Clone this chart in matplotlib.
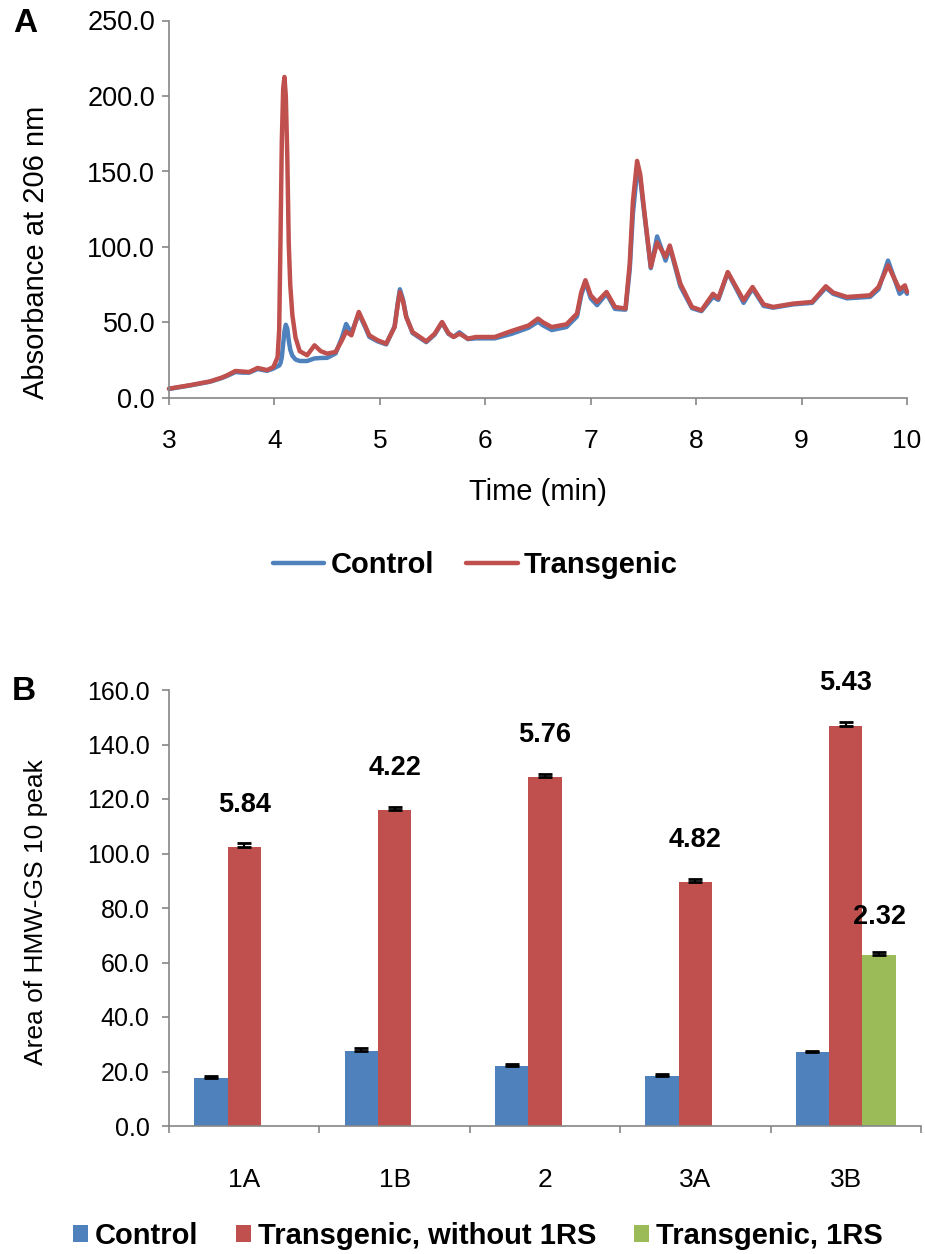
import matplotlib
matplotlib.use("Agg")
import matplotlib.pyplot as plt
import numpy as np
from matplotlib.ticker import FormatStrFormatter

plt.rcParams['font.family'] = ['Liberation Sans', 'DejaVu Sans']

# ---------------- Data: panel A (chromatogram) ----------------
time_min = [3.00, 3.20, 3.39, 3.50, 3.55, 3.63, 3.70, 3.76, 3.84, 3.93, 3.99,
            4.03, 4.045, 4.057, 4.070, 4.083, 4.095, 4.108, 4.122, 4.136, 4.150,
            4.170, 4.200, 4.240, 4.31, 4.38, 4.44, 4.50, 4.58, 4.64, 4.68, 4.73,
            4.80, 4.86, 4.90, 4.98, 5.06, 5.14, 5.17, 5.19, 5.22, 5.25, 5.31,
            5.44, 5.52, 5.59, 5.65, 5.70, 5.755, 5.835, 5.91, 6.09, 6.25, 6.41,
            6.50, 6.55, 6.63, 6.77, 6.87, 6.91, 6.95, 7.00, 7.06, 7.15, 7.23,
            7.33, 7.37, 7.40, 7.44, 7.47, 7.50, 7.57, 7.63, 7.71, 7.75, 7.85,
            7.96, 8.05, 8.16, 8.21, 8.30, 8.45, 8.535, 8.64, 8.73, 8.92, 9.10,
            9.23, 9.30, 9.43, 9.65, 9.73, 9.82, 9.93, 9.98, 10.0]

transgenic_abs = [6.2, 8.5, 11.0, 13.5, 15.0, 17.9, 17.5, 17.2, 19.9, 18.5, 20.5,
                  27.0, 45.0, 102.0, 170.0, 205.0, 212.6, 200.0, 160.0, 102.0, 75.0,
                  55.0, 40.0, 31.0, 28.3, 34.9, 31.0, 29.4, 30.5, 38.2, 44.0, 41.5,
                  57.0, 48.0, 41.5, 38.2, 36.0, 47.0, 62.0, 70.2, 64.0, 53.6, 43.7,
                  37.5, 42.6, 50.3, 43.0, 40.4, 42.6, 39.3, 40.4, 40.4, 44.4, 48.0,
                  52.6, 50.0, 47.0, 48.8, 55.9, 70.0, 78.0, 68.0, 63.6, 70.2, 60.3,
                  59.2, 89.0, 130.0, 157.0, 148.0, 128.7, 86.8, 103.0, 93.4, 101.0, 75.8,
                  60.3, 58.0, 69.0, 66.0, 83.4, 64.7, 73.5, 62.0, 60.3, 62.5, 63.6,
                  74.0, 69.8, 66.9, 68.0, 73.5, 87.9, 71.8, 74.6, 70.2]

control_abs = [6.0, 8.3, 10.8, 13.2, 14.6, 17.2, 16.8, 16.8, 19.2, 18.0, 19.5,
               21.0, 21.5, 23.0, 27.0, 36.0, 44.0, 48.5, 46.0, 38.0, 32.0,
               28.0, 25.5, 24.5, 24.5, 26.2, 26.5, 26.6, 29.5, 40.0, 49.0, 43.0,
               56.0, 47.0, 40.5, 37.5, 35.5, 47.5, 63.0, 72.0, 65.0, 54.0, 43.0,
               37.0, 42.0, 50.0, 42.5, 40.5, 43.5, 39.0, 39.5, 39.5, 42.5, 46.5,
               50.5, 48.0, 45.0, 47.0, 54.0, 68.0, 77.0, 66.0, 61.5, 69.0, 59.0,
               58.5, 85.0, 122.0, 150.0, 145.0, 127.0, 86.0, 107.0, 91.0, 100.0, 74.0,
               59.5, 57.5, 67.0, 65.0, 83.0, 63.0, 72.5, 61.0, 59.8, 62.0, 63.0,
               73.0, 69.0, 66.0, 67.0, 72.0, 91.0, 69.0, 72.0, 69.0]

# ---------------- Data: panel B (bar chart) ----------------
categories = ['1A', '1B', '2', '3A', '3B']
control_area = [17.5, 27.4, 22.2, 18.5, 27.0]
control_err = [1.0, 1.3, 0.5, 0.5, 0.5]
transgenic_area = [102.3, 115.8, 128.2, 89.4, 146.9]
transgenic_err = [1.4, 1.3, 1.0, 1.1, 1.4]
transgenic_labels = ['5.84', '4.22', '5.76', '4.82', '5.43']
rs_categories = ['3B']
rs_area = [62.9]
rs_err = [1.0]
rs_labels = ['2.32']

BLUE = '#4F81BD'
RED = '#C0504D'
GREEN = '#9BBB59'
GRAY = '#868686'

W, H = 925, 1254
fig = plt.figure(figsize=(W / 100, H / 100), dpi=100)


def style_axes(ax):
    for s in ['top', 'right']:
        ax.spines[s].set_visible(False)
    for s in ['left', 'bottom']:
        ax.spines[s].set_color(GRAY)
        ax.spines[s].set_linewidth(1.2)
    ax.tick_params(which='both', direction='out', color=GRAY, width=1.2, length=5)


# ---------------- Panel A ----------------
axA = fig.add_axes([169 / W, 1 - 398 / H, (907 - 169) / W, (398 - 20.5) / H])
style_axes(axA)
axA.plot(time_min, control_abs, color=BLUE, lw=3.2, solid_joinstyle='round',
         solid_capstyle='round', label='Control', clip_on=False)
axA.plot(time_min, transgenic_abs, color=RED, lw=3.2, solid_joinstyle='round',
         solid_capstyle='round', label='Transgenic', clip_on=False)
axA.set_xlim(3, 10)
axA.set_ylim(0, 250)
axA.set_xticks(np.arange(3, 11, 1))
axA.set_yticks(np.arange(0, 251, 50))
axA.yaxis.set_major_formatter(FormatStrFormatter('%.1f'))
axA.tick_params(axis='y', labelsize=19.5, pad=5)
axA.tick_params(axis='x', labelsize=19, pad=17)

fig.text(36 / W, 1 - 252 / H, 'Absorbance at 206 nm', rotation=90,
         ha='center', va='center', fontsize=21)
fig.text(538 / W, 1 - 492 / H, 'Time (min)', ha='center', va='center', fontsize=21)
fig.text(25 / W, 1 - 24 / H, 'A', ha='center', va='center', fontsize=24, weight='bold')

hA, lA = axA.get_legend_handles_labels()
fig.legend(hA, lA, loc='center', bbox_to_anchor=(475 / W, 1 - 565 / H), ncol=2,
           frameon=False, prop=dict(weight='bold', size=21), handlelength=1.78,
           handletextpad=0.2, columnspacing=1.1)

# ---------------- Panel B ----------------
axB = fig.add_axes([169 / W, 1 - 1126 / H, (921 - 169) / W, (1126 - 690) / H])
style_axes(axB)
x = np.arange(len(categories))
bw = 0.222

b1 = axB.bar(x - bw, control_area, bw, color=BLUE, label='Control', zorder=2)
b2 = axB.bar(x, transgenic_area, bw, color=RED, label='Transgenic, without 1RS', zorder=2)
x_rs = np.array([categories.index(c) for c in rs_categories])
b3 = axB.bar(x_rs + bw, rs_area, bw, color=GREEN, label='Transgenic, 1RS', zorder=2)

err_kw = dict(fmt='none', ecolor='black', elinewidth=1.6, capsize=5, capthick=2.0, zorder=3)
axB.errorbar(x - bw, control_area, yerr=[np.zeros(len(x)), control_err], **err_kw)
axB.errorbar(x, transgenic_area, yerr=[np.zeros(len(x)), transgenic_err], **err_kw)
axB.errorbar(x_rs + bw, rs_area, yerr=[np.zeros(len(x_rs)), rs_err], **err_kw)

for xi, v, e, t in zip(x, transgenic_area, transgenic_err, transgenic_labels):
    axB.annotate(t, xy=(xi, v + e), xytext=(0, 28), textcoords='offset points',
                 ha='center', va='center', fontsize=19.5, weight='bold',
                 annotation_clip=False)
for xi, v, e, t in zip(x_rs + bw, rs_area, rs_err, rs_labels):
    axB.annotate(t, xy=(xi, v + e), xytext=(0, 25), textcoords='offset points',
                 ha='center', va='center', fontsize=19.5, weight='bold',
                 annotation_clip=False)

axB.set_xlim(-0.5, len(categories) - 0.5)
axB.set_ylim(0, 160)
axB.set_yticks(np.arange(0, 161, 20))
axB.yaxis.set_major_formatter(FormatStrFormatter('%.1f'))
axB.set_xticks(x)
axB.set_xticklabels(categories)
axB.set_xticks(np.arange(-0.5, len(categories), 1.0), minor=True)
axB.tick_params(axis='x', which='major', length=0, labelsize=19, pad=30)
axB.tick_params(axis='y', labelsize=18, pad=9)

fig.text(36 / W, 1 - 912 / H, 'Area of HMW-GS 10 peak', rotation=90,
         ha='center', va='center', fontsize=19)
fig.text(24 / W, 1 - 692 / H, 'B', ha='center', va='center', fontsize=24, weight='bold')

fig.legend([b1, b2, b3], ['Control', 'Transgenic, without 1RS', 'Transgenic, 1RS'],
           loc='center', bbox_to_anchor=(478 / W, 1 - 1236 / H), ncol=3,
           frameon=False, prop=dict(weight='bold', size=21), handlelength=0.5,
           handleheight=0.5, handletextpad=0.25, columnspacing=1.3)

fig.savefig('out.png', dpi=100)
